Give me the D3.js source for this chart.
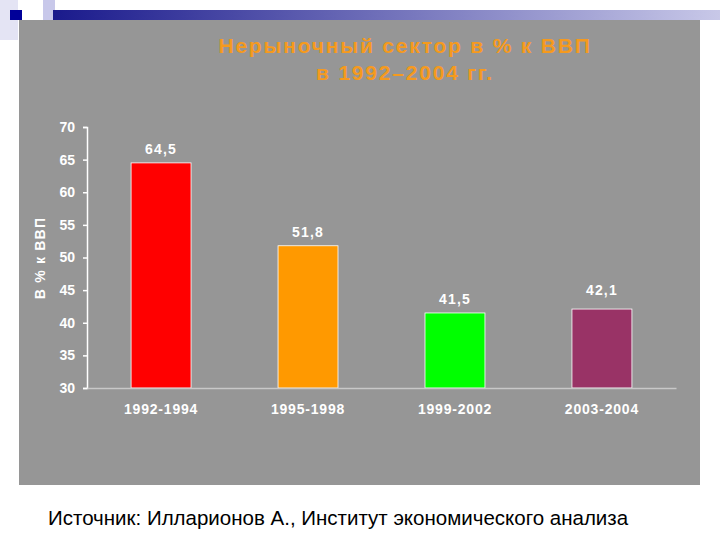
<!DOCTYPE html>
<html><head><meta charset="utf-8">
<script src="https://cdn.jsdelivr.net/npm/d3@7"></script>
<style>body{margin:0;background:#fff}svg{display:block}</style>
</head><body>
<script>
var categories = ["1992-1994", "1995-1998", "1999-2002", "2003-2004"];
var values = [64.5, 51.8, 41.5, 42.1];
var labels = ["64,5", "51,8", "41,5", "42,1"];
var colors = ["#ff0000", "#ff9900", "#00ff00", "#993366"];
var yTicks = [30, 35, 40, 45, 50, 55, 60, 65, 70];

var svg = d3.select("body").append("svg").attr("width", 720).attr("height", 540);

// slide decoration
var grad = svg.append("defs").append("linearGradient").attr("id", "bar");
grad.append("stop").attr("offset", "0").attr("stop-color", "#1a1a8c");
grad.append("stop").attr("offset", "1").attr("stop-color", "#c8c8e8");
svg.append("rect").attr("x", 0).attr("y", 0).attr("width", 18).attr("height", 40).attr("fill", "#e4e4f4");
svg.append("rect").attr("x", 43).attr("y", 0).attr("width", 12).attr("height", 20).attr("fill", "#c8c8ea");
svg.append("rect").attr("x", 53).attr("y", 10).attr("width", 667).attr("height", 10).attr("fill", "url(#bar)");
svg.append("rect").attr("x", 10).attr("y", 10).attr("width", 12).attr("height", 10).attr("fill", "#000099");

svg.append("rect").attr("x", 19).attr("y", 20).attr("width", 681).attr("height", 465).attr("fill", "#969696");

var font = "Liberation Sans, Arial";
svg.append("text").attr("x", 405).attr("y", 53).attr("text-anchor", "middle")
  .attr("font-family", font).attr("font-weight", "bold").attr("font-size", 21)
  .attr("fill", "#f59a1e").attr("letter-spacing", 1.8).text("Нерыночный сектор в % к ВВП");
svg.append("text").attr("x", 405).attr("y", 80).attr("text-anchor", "middle")
  .attr("font-family", font).attr("font-weight", "bold").attr("font-size", 21)
  .attr("fill", "#f59a1e").attr("letter-spacing", 1.8).text("в 1992–2004 гг.");

var margin = {left: 87, top: 127};
var width = 589, height = 261;
var g = svg.append("g").attr("transform", "translate(" + margin.left + "," + margin.top + ")");

var x = d3.scaleBand().domain(categories).range([0, width]).paddingInner(0.592).paddingOuter(0.3);
var y = d3.scaleLinear().domain([30, 70]).range([height, 0]);

g.selectAll(".bar").data(values).enter().append("rect")
  .attr("x", function(d, i) { return x(categories[i]); })
  .attr("width", x.bandwidth())
  .attr("y", function(d) { return y(d); })
  .attr("height", function(d) { return height - y(d); })
  .attr("fill", function(d, i) { return colors[i]; })
  .attr("stroke", "#fff").attr("stroke-width", 0.8);

g.selectAll(".lbl").data(values).enter().append("text")
  .attr("x", function(d, i) { return x(categories[i]) + x.bandwidth() / 2; })
  .attr("y", function(d, i) { return y(d) - (i === 3 ? 14 : 9); })
  .attr("text-anchor", "middle").attr("fill", "#fff")
  .attr("font-family", font).attr("font-weight", "bold").attr("font-size", 14)
  .attr("letter-spacing", 1.2)
  .text(function(d, i) { return labels[i]; });

var yAxis = g.append("g").call(d3.axisLeft(y).tickValues(yTicks).tickSize(4).tickPadding(8));
var xAxis = g.append("g").attr("transform", "translate(0," + height + ")")
  .call(d3.axisBottom(x).tickSize(0).tickPadding(16));
[yAxis, xAxis].forEach(function(a) {
  a.selectAll("path,line").attr("stroke", "#fff").attr("stroke-width", 1.5);
  a.selectAll("text").attr("fill", "#fff").attr("font-family", font)
    .attr("font-weight", "bold").attr("font-size", 14);
});
xAxis.select("path").attr("stroke", "#c8c8c8");
xAxis.selectAll("text").attr("letter-spacing", 0.8);

svg.append("text").attr("transform", "translate(45,258) rotate(-90)").attr("text-anchor", "middle")
  .attr("fill", "#fff").attr("font-family", font).attr("font-weight", "bold")
  .attr("font-size", 14).attr("letter-spacing", 1.2).text("В % к ВВП");

svg.append("text").attr("x", 48).attr("y", 525).attr("font-family", font)
  .attr("font-size", 20.5).attr("fill", "#000").text("Источник: Илларионов А., Институт экономического анализа");
</script>
</body></html>
